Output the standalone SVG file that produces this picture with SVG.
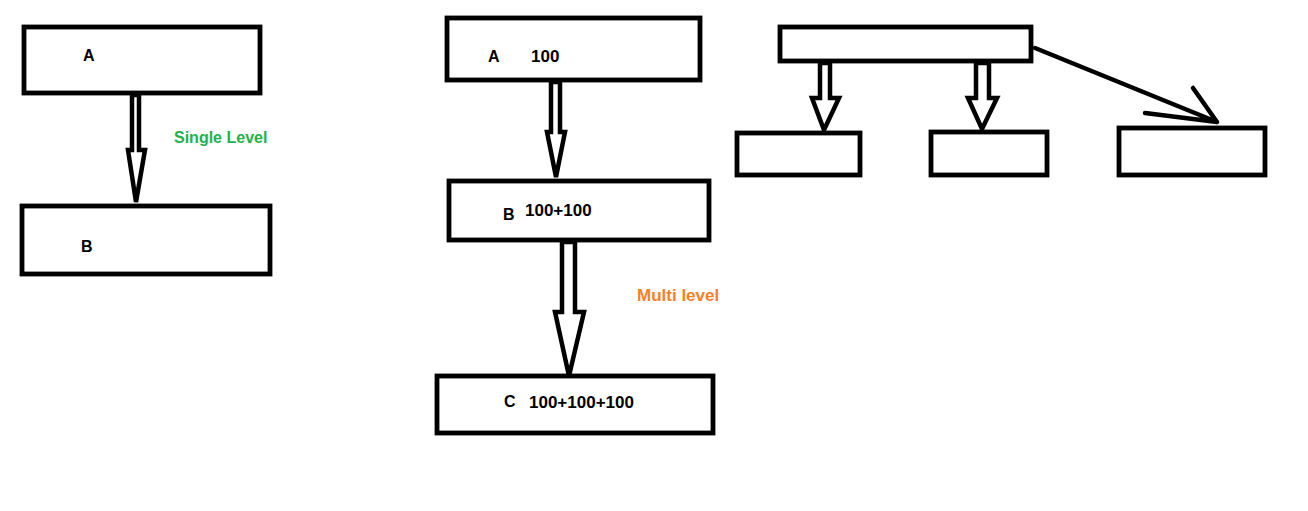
<svg xmlns="http://www.w3.org/2000/svg" width="1308" height="511" viewBox="0 0 1308 511">
  <style>
    .box { fill: #fff; stroke: #000; stroke-width: 4.8; }
    .blk { fill: #fff; stroke: #000; stroke-width: 4.5; stroke-linejoin: miter; }
    .ln { fill: none; stroke: #000; stroke-width: 4.5; stroke-linecap: round; }
    .t { font-family: "Liberation Sans", Arial, sans-serif; font-weight: bold; fill: #000; }
    .lt { font-size: 16px; }
    .num { font-size: 17px; }
    .green { font-size: 16px; fill: #22b14c; }
    .orange { font-size: 17px; fill: #ff7f27; }
  </style>
  <rect width="1308" height="511" fill="#fff"/>

  <!-- connectors: block arrows and the free-hand line -->
  <g id="connectors">
    <polygon class="blk" points="132,95 139,95 139,150 145,150 136,202 128,150 132,150"/>
    <polygon class="blk" points="551,82 560,82 560,132 565,132 556,177 547,132 551,132"/>
    <polygon class="blk" points="562,242 575,242 575,312 584,312 569,376 555,312 562,312"/>
    <polygon class="blk" points="820,63 830,63 830,98 839,98 824,130 812,98 820,98"/>
    <polygon class="blk" points="976,63 989,63 989,98 997,98 982,129 968,98 976,98"/>
    <path class="ln" d="M1035,48 L1217,122 M1193,88 L1217,122 M1145,113 L1217,122"/>
  </g>

  <!-- single level -->
  <g id="single-a">
    <rect class="box" x="24" y="27" width="236" height="66"/>
    <text class="t lt" x="83" y="61">A</text>
  </g>
  <g id="single-b">
    <rect class="box" x="22" y="206" width="248" height="68"/>
    <text class="t lt" x="81" y="252">B</text>
  </g>
  <text class="t green" x="174" y="143">Single Level</text>

  <!-- multi level -->
  <g id="multi-a">
    <rect class="box" x="447" y="18" width="253" height="62"/>
    <text class="t lt" x="488" y="62">A</text>
    <text class="t num" x="531" y="62">100</text>
  </g>
  <g id="multi-b">
    <rect class="box" x="449" y="181" width="260" height="59"/>
    <text class="t lt" x="503" y="220">B</text>
    <text class="t num" x="525" y="216">100+100</text>
  </g>
  <g id="multi-c">
    <rect class="box" x="437" y="376" width="276" height="57"/>
    <text class="t lt" x="504" y="407">C</text>
    <text class="t num" x="529" y="408">100+100+100</text>
  </g>
  <text class="t orange" x="637" y="301">Multi level</text>

  <!-- hierarchical -->
  <g id="parent">
    <rect class="box" x="780" y="27" width="251" height="34"/>
  </g>
  <g id="child-1">
    <rect class="box" x="737" y="133" width="123" height="42"/>
  </g>
  <g id="child-2">
    <rect class="box" x="931" y="132" width="116" height="43"/>
  </g>
  <g id="child-3">
    <rect class="box" x="1119" y="128" width="146" height="47"/>
  </g>
</svg>
